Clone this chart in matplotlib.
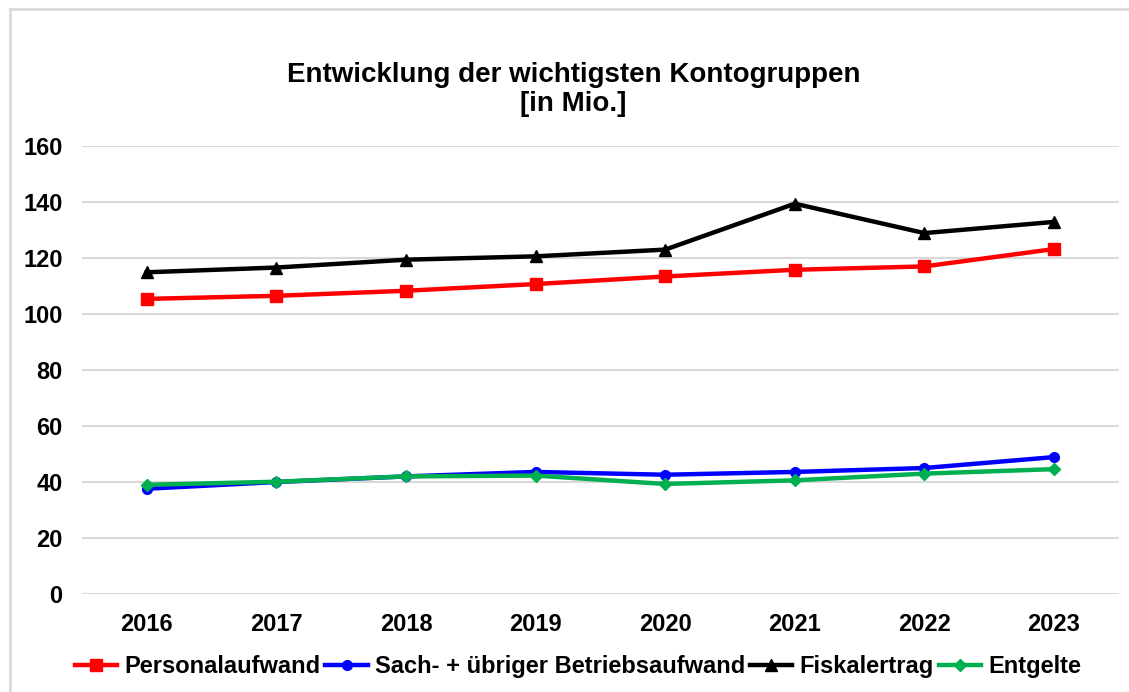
import matplotlib.pyplot as plt
from matplotlib.lines import Line2D

plt.rcParams['font.family'] = ['Liberation Sans', 'DejaVu Sans']

years = ["2016", "2017", "2018", "2019", "2020", "2021", "2022", "2023"]
personalaufwand = [105.4, 106.5, 108.3, 110.7, 113.4, 115.8, 117.0, 123.2]
sachaufwand = [37.6, 40.0, 42.0, 43.6, 42.6, 43.6, 45.0, 48.9]
fiskalertrag = [114.9, 116.6, 119.4, 120.6, 123.0, 139.4, 128.9, 132.9]
entgelte = [39.0, 40.1, 42.0, 42.3, 39.3, 40.6, 43.0, 44.6]

series = [
    ("Personalaufwand", personalaufwand, "#ff0000", "s", 8),
    ("Sach- + übriger Betriebsaufwand", sachaufwand, "#0000ff", "o", 7),
    ("Fiskalertrag", fiskalertrag, "#000000", "^", 8),
    ("Entgelte", entgelte, "#00b050", "D", 6),
]

fig = plt.figure(figsize=(11.29, 6.92), dpi=100)
ax = fig.add_axes([0.0726, 0.1416, 0.9184, 0.6474])

x = range(len(years))
handles = []
for label, values, color, marker, ms in series:
    ax.plot(x, values, color=color, lw=3.2, marker=marker, ms=ms, zorder=3)
    handles.append(Line2D([], [], color=color, lw=3.2, marker=marker, ms=ms, label=label))

ax.set_xlim(-0.5, len(years) - 0.5)
ax.set_ylim(0, 160)
ax.set_yticks(range(0, 161, 20))
ax.set_xticks(list(x))
ax.set_xticklabels(years)
ax.grid(axis="y", color="#d9d9d9", lw=1.5)
ax.set_axisbelow(True)
for side in ["top", "right", "left", "bottom"]:
    ax.spines[side].set_visible(False)
ax.tick_params(length=0, labelsize=17)
for lbl in ax.get_xticklabels() + ax.get_yticklabels():
    lbl.set_fontweight("bold")
ax.tick_params(axis="x", pad=14)
ax.tick_params(axis="y", pad=14)

fig.text(0.508, 0.87, "Entwicklung der wichtigsten Kontogruppen\n[in Mio.]",
         ha="center", va="center", fontsize=20, fontweight="bold", linespacing=1.15)

fig.legend(handles=handles, loc="center", bbox_to_anchor=(0.512, 0.037), ncol=4,
           frameon=False, prop={"size": 17, "weight": "bold"},
           handlelength=1.8, handletextpad=0.3, columnspacing=0.2)

# light chart border (top and left edges)
fig.add_artist(Line2D([0.009, 1.0], [0.987, 0.987], color="#d9d9d9", lw=2))
fig.add_artist(Line2D([0.009, 0.009], [0.0, 0.987], color="#d9d9d9", lw=2))

fig.savefig("out.png", dpi=100)
